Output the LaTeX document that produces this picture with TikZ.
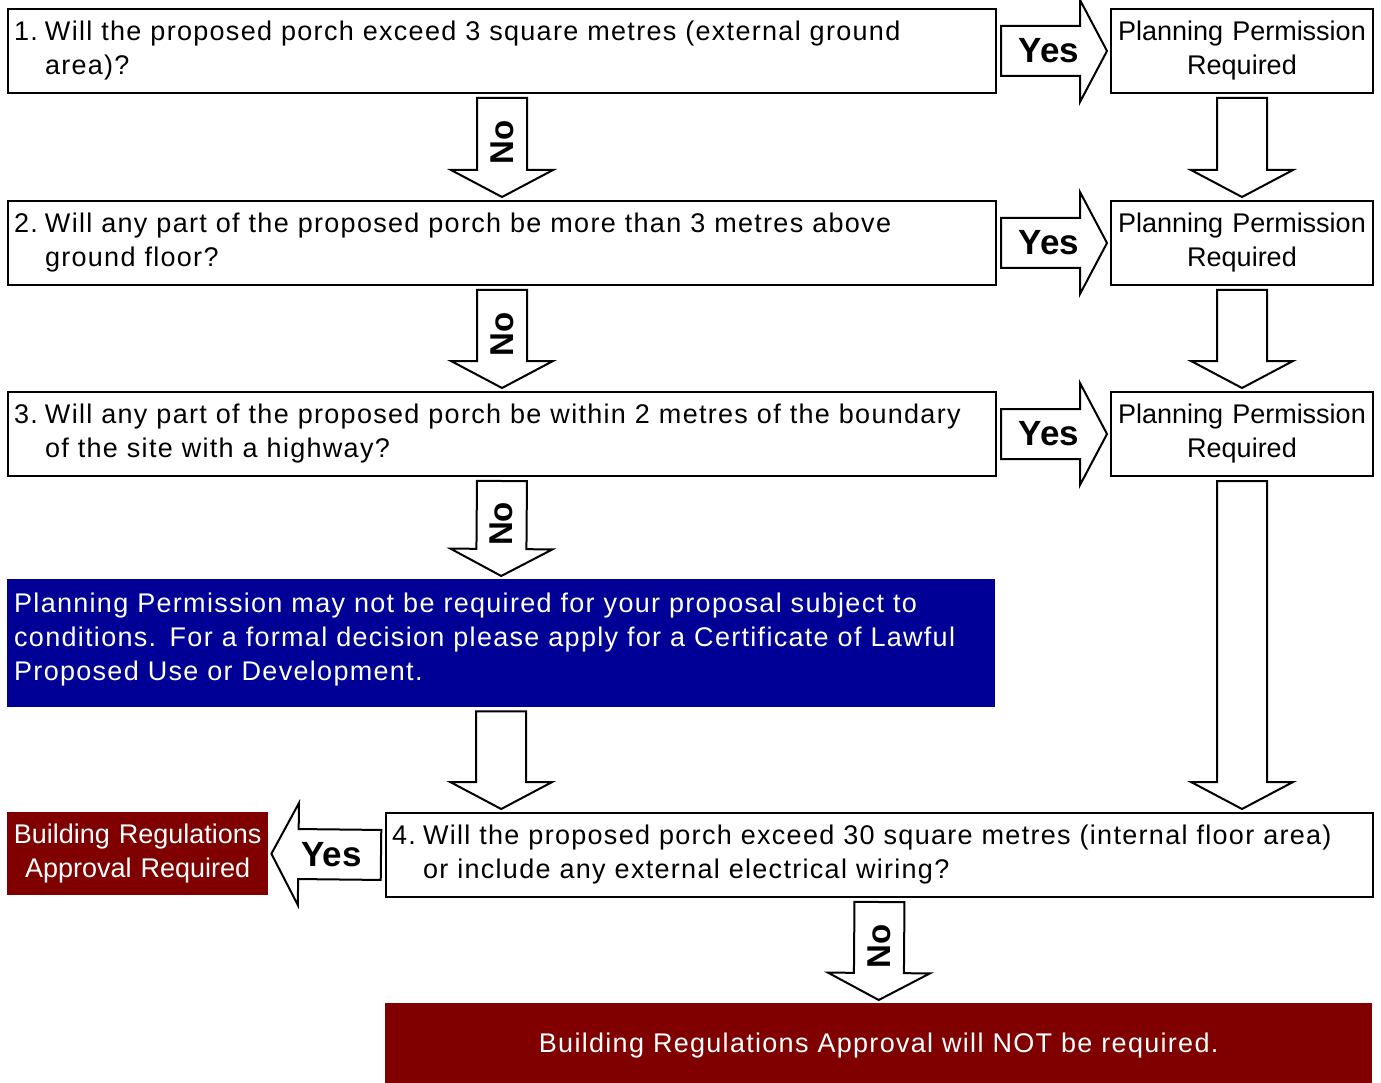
\documentclass[tikz,border=0pt]{standalone}
\usepackage{fontspec}
\setmainfont{Liberation Sans}
\newfontfamily\widefont[LetterSpace=4.8]{Liberation Sans}
\usetikzlibrary{calc}
\definecolor{planblue}{RGB}{0,0,150}
\definecolor{regred}{RGB}{128,0,0}

\tikzset{
  widetext/.style={font=\widefont\fontsize{27}{34}\selectfont},
  qbox/.style={draw, line width=2pt, anchor=north west, inner xsep=6pt, inner ysep=0pt, align=left, minimum height=84, widetext},
  ppbox/.style={draw, line width=2pt, anchor=north west, inner sep=0pt, text width=262, align=center, minimum height=84},
  bluebox/.style={fill=planblue, text=white, anchor=north west, inner xsep=7pt, inner ysep=0pt, align=left, widetext},
  redbox/.style={fill=regred, text=white, anchor=north west, inner sep=0pt, align=center},
  fatarrow/.style={draw, fill=white, line width=2pt, line join=miter, to path={
    let \p1=(\tikztostart), \p2=(\tikztotarget),
        \n1={atan2(\y2-\y1,\x2-\x1)}, \n2={veclen(\x2-\x1,\y2-\y1)-7pt} in
    ($(\p1)+(\n1:4pt)+(\n1+90:25pt)$)
    -- ($(\p1)+(\n1:\n2-23pt)+(\n1+90:25pt)$)
    -- ($(\p1)+(\n1:\n2-23pt)+(\n1+90:51pt)$)
    -- ($(\p1)+(\n1:\n2+4pt)$)
    -- ($(\p1)+(\n1:\n2-23pt)+(\n1-90:51pt)$)
    -- ($(\p1)+(\n1:\n2-23pt)+(\n1-90:25pt)$)
    -- ($(\p1)+(\n1:4pt)+(\n1-90:25pt)$) -- cycle}},
  nolab/.style={font=\fontsize{33}{33}\selectfont\bfseries, rotate=90, inner sep=0pt},
  yeslab/.style={font=\fontsize{35}{35}\selectfont\bfseries, inner sep=0pt}
}
\newcommand{\qtext}[3]{\makebox[31pt][l]{#1}#2\\\hspace*{31pt}#3}

\begin{document}
\begin{tikzpicture}[x=1pt, y=-1pt, font=\fontsize{27}{34}\selectfont]
  \useasboundingbox (0,0) rectangle (1381,1083);

  % questions
  \node[qbox, text width=976] (q1) at (7,8)
    {\qtext{1.}{Will the proposed porch exceed 3 square metres (external ground}{area)?}};
  \node[qbox, text width=976] (q2) at (7,200)
    {\qtext{2.}{Will any part of the proposed porch be more than 3 metres above}{ground floor?}};
  \node[qbox, text width=976] (q3) at (7,391)
    {\qtext{3.}{Will any part of the proposed porch be within 2 metres of the boundary}{of the site with a highway?}};
  \node[qbox, text width=975] (q4) at (385,812)
    {\qtext{4.}{Will the proposed porch exceed 30 square metres (internal floor area)}{or include any external electrical wiring?}};

  % answers
  \node[ppbox] (pp1) at (1110,8) {Planning Permission\\Required};
  \node[ppbox] (pp2) at (1110,200) {Planning Permission\\Required};
  \node[ppbox] (pp3) at (1110,391) {Planning Permission\\Required};
  \node[bluebox, text width=974, minimum height=128] (maynot) at (7,579)
    {Planning Permission may not be required for your proposal subject to\\conditions. For a formal decision please apply for a Certificate of Lawful\\Proposed Use or Development.\par\vspace*{8pt}};
  \node[redbox, text width=261, minimum height=83] (brreq) at (7,812)
    {Building Regulations\\Approval Required};
  \node[redbox, text width=987, minimum height=80, text depth=0pt, widetext] (brnot) at (385,1003)
    {Building Regulations Approval will NOT be required.};

  % no arrows
  \draw[fatarrow] (q1.south) to (q2.north);
  \draw[fatarrow] (q2.south) to (q3.north);
  \draw[fatarrow] (q3.south) to (maynot.north);
  \draw[fatarrow] (q4.south) to (brnot.north);
  \node[nolab] (no1) at ($(q1.south)!.46!(q2.north)$) {No};
  \node[nolab] (no2) at ($(q2.south)!.46!(q3.north)$) {No};
  \node[nolab] (no3) at ($(q3.south)!.46!(maynot.north)$) {No};
  \node[nolab] (no4) at ($(q4.south)!.46!(brnot.north)$) {No};

  % yes arrows
  \draw[fatarrow] (q1.east) to (pp1.west);
  \draw[fatarrow] (q2.east) to (pp2.west);
  \draw[fatarrow] (q3.east) to (pp3.west);
  \draw[fatarrow] (q4.west) to (brreq.east);
  \node[yeslab] (yes1) at ($(q1.east)!.46!(pp1.west)$) {Yes};
  \node[yeslab] (yes2) at ($(q2.east)!.46!(pp2.west)$) {Yes};
  \node[yeslab] (yes3) at ($(q3.east)!.46!(pp3.west)$) {Yes};
  \node[yeslab] (yes4) at ($(q4.west)!.46!(brreq.east)$) {Yes};

  % down the right side
  \draw[fatarrow] (pp1.south) to (pp2.north);
  \draw[fatarrow] (pp2.south) to (pp3.north);
  \draw[fatarrow] (pp3.south) to (pp3.south |- q4.north);
  \draw[fatarrow] (maynot.south) to (maynot.south |- q4.north);
\end{tikzpicture}
\end{document}
